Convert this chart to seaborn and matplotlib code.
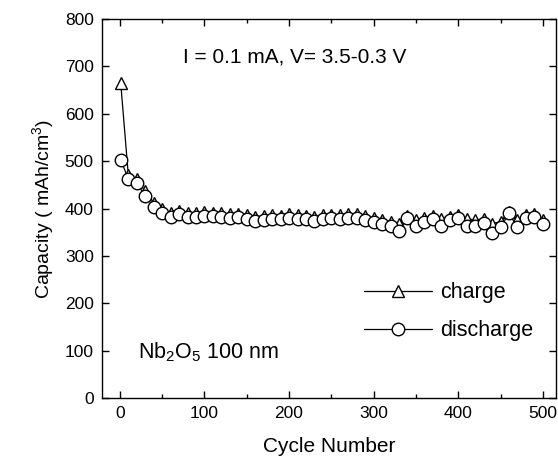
import matplotlib
matplotlib.use("Agg")
import matplotlib.pyplot as plt
from matplotlib.lines import Line2D
from matplotlib.ticker import MultipleLocator
import seaborn as sns
import pandas as pd

cycles = [1] + list(range(10, 501, 10))
discharge = [503, 462, 453, 427, 404, 391, 383, 388, 382, 383,
             385, 384, 383, 380, 382, 378, 374, 376, 378, 377,
             381, 378, 377, 374, 377, 379, 377, 380, 381, 376,
             371, 368, 363, 352, 380, 363, 371, 378, 364, 375,
             380, 364, 363, 369, 348, 360, 390, 360, 379, 382, 368]
charge = [665, 470, 462, 436, 412, 398, 390, 395, 390, 390,
          392, 391, 390, 388, 389, 386, 383, 384, 386, 385,
          389, 386, 385, 383, 386, 387, 386, 388, 389, 385,
          380, 376, 372, 368, 385, 376, 380, 385, 378, 383,
          386, 378, 376, 378, 368, 372, 392, 376, 386, 388, 375]

sns.set_theme(style="ticks")
plt.rcParams['font.family'] = ['Liberation Sans', 'DejaVu Sans']
plt.rcParams['mathtext.fontset'] = 'custom'
plt.rcParams['mathtext.rm'] = 'Liberation Sans'
plt.rcParams['mathtext.it'] = 'Liberation Sans'
plt.rcParams['text.color'] = 'black'
plt.rcParams['axes.labelcolor'] = 'black'

df = pd.DataFrame({"cycle": cycles, "charge": charge, "discharge": discharge})

fig = plt.figure(figsize=(5.58, 4.58), dpi=100)
ax = fig.add_axes([0.183, 0.131, 0.814, 0.8275])

ms = 9
sns.lineplot(data=df, x="cycle", y="charge", ax=ax, color="black", lw=0.9,
             marker="^", markersize=ms, markerfacecolor="white",
             markeredgecolor="black", markeredgewidth=1.0, zorder=2)
sns.lineplot(data=df, x="cycle", y="discharge", ax=ax, color="black", lw=0.9,
             marker="o", markersize=ms, markerfacecolor="white",
             markeredgecolor="black", markeredgewidth=1.0, zorder=3)

ax.set_xlim(-21, 516)
ax.set_ylim(0, 800)
ax.xaxis.set_major_locator(MultipleLocator(100))
ax.xaxis.set_minor_locator(MultipleLocator(50))
ax.yaxis.set_major_locator(MultipleLocator(100))
ax.tick_params(which="both", direction="in", top=True, right=True,
               labelsize=12.5, colors="black", width=1.0, pad=6)
ax.tick_params(which="major", length=5)
ax.tick_params(which="minor", length=3)
for s in ax.spines.values():
    s.set_linewidth(1.0)
    s.set_color("black")

ax.set_xlabel("Cycle Number", fontsize=15, labelpad=11)
ax.set_ylabel(r"Capacity ( mAh/cm$^\mathregular{3}$)", fontsize=14, labelpad=6)

ax.text(0.425, 0.90, "I = 0.1 mA, V= 3.5-0.3 V", transform=ax.transAxes,
        ha="center", va="center", fontsize=15)
ax.text(0.08, 0.12, r"Nb$_\mathregular{2}$O$_\mathregular{5}$ 100 nm",
        transform=ax.transAxes, ha="left", va="center", fontsize=15.5)

handles = [Line2D([], [], color="black", lw=0.9, marker="^", markersize=ms,
                  markerfacecolor="white", markeredgecolor="black"),
           Line2D([], [], color="black", lw=0.9, marker="o", markersize=ms,
                  markerfacecolor="white", markeredgecolor="black")]
ax.legend(handles, ["charge", "discharge"], loc="upper left",
          bbox_to_anchor=(0.577, 0.305), frameon=False, fontsize=15.5,
          handlelength=3.15, handletextpad=0.37, labelspacing=0.78,
          borderpad=0, borderaxespad=0)

fig.savefig("out.png", dpi=100)
